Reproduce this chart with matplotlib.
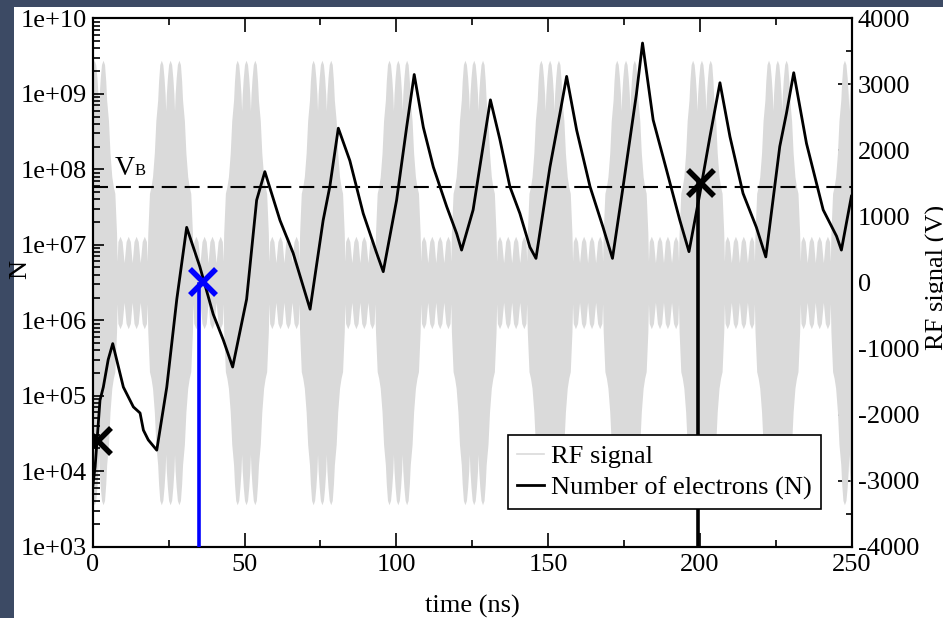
import numpy as np
import matplotlib.pyplot as plt
from matplotlib.lines import Line2D
from matplotlib.patches import Rectangle
from matplotlib.ticker import FixedLocator, NullFormatter

plt.rcParams['font.family'] = ['Liberation Serif', 'DejaVu Serif']

# number of electrons vs time
t_n = [0.0, 0.8, 2.4, 3.5, 5.1, 6.6, 10.1, 13.4, 15.6, 16.7, 18.3, 21.1,
       24.4, 27.7, 30.95, 35.3, 39.7, 43.0, 46.1, 50.7, 54.0, 56.7,
       61.7, 66.0, 71.6, 75.9, 78.1, 80.9, 84.7, 89.1, 93.5, 95.7,
       100.1, 103.4, 105.9, 108.9, 112.2, 116.6, 119.9, 121.5, 125.3, 127.5,
       131.0, 134.1, 137.4, 140.7, 144.0, 146.0, 150.6, 153.9, 156.1,
       159.4, 163.8, 168.1, 171.2, 174.7, 179.1, 181.1, 184.6, 189.0,
       193.4, 196.4, 200.0, 203.3, 206.6, 209.9, 214.2, 218.6, 221.7,
       226.3, 228.5, 230.9, 235.1, 240.6, 245.0, 246.6, 249.9]
n_e = [6.2e3, 1.15e4, 8.7e4, 1.3e5, 3.0e5, 4.9e5, 1.3e5, 7.1e4, 5.9e4, 3.5e4, 2.6e4, 1.9e4,
       1.3e5, 1.9e6, 1.7e7, 5.1e6, 1.2e6, 5.5e5, 2.4e5, 1.9e6, 3.9e7, 9.3e7,
       2.1e7, 7.8e6, 1.4e6, 2.1e7, 5.9e7, 3.5e8, 1.3e8, 2.6e7, 7.8e6, 4.4e6,
       3.9e7, 3.6e8, 1.8e9, 3.6e8, 1.07e8, 3.2e7, 1.4e7, 8.5e6, 2.9e7, 1.07e8,
       8.3e8, 2.5e8, 5.9e7, 2.6e7, 9.3e6, 6.6e6, 1.07e8, 5.5e8, 1.7e9,
       3.3e8, 5.9e7, 1.7e7, 6.6e6, 5.9e7, 1.0e9, 4.7e9, 4.5e8, 9.8e7,
       2.1e7, 8.1e6, 4.8e7, 2.7e8, 1.4e9, 2.7e8, 4.8e7, 1.7e7, 6.9e6,
       2.0e8, 5.5e8, 1.9e9, 2.2e8, 2.9e7, 1.3e7, 8.5e6, 4.4e7]

# RF signal: burst centres (ns) and upper envelope of one half period
burst_centres = [0.5, 25.5, 50.5, 75.5, 100.5, 125.5, 150.5, 175.5, 200.5, 225.5, 250.5]
env_dt = [0.0, 0.5, 0.9, 1.25, 1.45, 1.65, 2.0, 2.4, 2.9, 3.4, 3.8, 4.1, 4.7, 5.2, 5.8,
          6.3, 6.8, 7.35, 7.55, 7.8, 8.5, 9.2, 9.85, 10.5, 11.2, 11.9, 12.5]
env_v = [3365, 3300, 3100, 2850, 2600, 2850, 3100, 3300, 3365, 3300, 3050, 2760, 2450, 1960, 1600,
         1450, 1350, 750, 320, 620, 700, 620, 300, 620, 700, 620, 300]

v_b = 1450
blue_t, blue_top = 35.1, 3.0e6
blue_mark = (36.4, 3.2e6)
black_t, black_top = 199.4, 6.5e7
black_marks_t = [1.8, 200.5]
black_marks_n = [2.5e4, 6.5e7]

ylog_ticks = [1e3, 1e4, 1e5, 1e6, 1e7, 1e8, 1e9, 1e10]
ylog_labels = ['1e+03', '1e+04', '1e+05', '1e+06', '1e+07', '1e+08', '1e+09', '1e+10']
rf_ticks = [-4000, -3000, -2000, -1000, 0, 1000, 2000, 3000, 4000]
t_ticks = [0, 50, 100, 150, 200, 250]

fig = plt.figure(figsize=(9.43, 6.18), dpi=100, facecolor='#3c4a64')
fig.patches.append(Rectangle((14 / 943, 0), 1, 1 - 7 / 618, transform=fig.transFigure,
                             facecolor='white', edgecolor='none', zorder=0))

ax = fig.add_axes([0.0983, 0.1154, 0.8049, 0.855])
ax2 = ax.twinx()
ax.set_zorder(2)
ax2.set_zorder(1)
ax.patch.set_visible(False)
ax2.patch.set_facecolor('white')

# RF signal on the right axis
h_dt = np.array(env_dt)
h_v = np.array(env_v)
p_dt = np.concatenate([-h_dt[::-1], h_dt[1:]])
p_v = np.concatenate([h_v[::-1], h_v[1:]])
rf_t = np.concatenate([c + p_dt for c in burst_centres])
rf_v = np.tile(p_v, len(burst_centres))
ax2.fill_between(rf_t, -rf_v, rf_v, color='#dadada', lw=0, zorder=1.6)
ax2.axhline(v_b, color='black', lw=1.5, dashes=(7.2, 3.8), zorder=3)
ax2.text(7.3, 1628, 'V', fontsize=20)
ax2.text(13.8, 1628, 'B', fontsize=12)
ax2.set_ylim(-4000, 4000)
ax2.set_yticks(rf_ticks)
ax2.yaxis.set_minor_locator(FixedLocator(np.arange(-3500, 4000, 1000)))
ax2.tick_params(axis='y', which='major', direction='in', length=10, width=1.2,
                labelsize=19, pad=4.5)
ax2.tick_params(axis='y', which='minor', direction='in', length=4.5, width=1.2)
ax2.yaxis.set_major_formatter(plt.FuncFormatter(lambda v, p: '%d' % v))

# number of electrons on the left axis
ax.plot([blue_t, blue_t], [1e3, blue_top], color='#0000ff', lw=2.6, zorder=3)
ax.plot([black_t, black_t], [1e3, black_top], color='black', lw=2.6, zorder=3)
n_line, = ax.plot(t_n, n_e, color='black', lw=2.0, zorder=4)
ax.plot(*blue_mark, marker='x', ms=19, mew=4, color='#0000ff', zorder=5)
ax.plot(black_marks_t, black_marks_n, ls='none', marker='x', ms=19, mew=4,
        color='black', zorder=5)

ax.set_yscale('log')
ax.set_ylim(1e3, 1e10)
ax.set_xlim(0, 250)
ax.set_yticks(ylog_ticks)
ax.set_yticklabels(ylog_labels)
ax.yaxis.set_minor_locator(FixedLocator([m * 10.0 ** k for k in range(3, 10) for m in range(2, 10)]))
ax.yaxis.set_minor_formatter(NullFormatter())
ax.set_xticks(t_ticks)
ax.xaxis.set_minor_locator(FixedLocator([25, 75, 125, 175, 225]))
ax.tick_params(axis='y', which='major', direction='in', length=8, width=1.2,
               labelsize=19, pad=4, right=False)
ax.tick_params(axis='y', which='minor', direction='in', length=5, width=1.2, right=False)
ax.tick_params(axis='x', which='major', direction='in', length=10, width=1.2,
               labelsize=19, pad=5, top=True)
ax.tick_params(axis='x', which='minor', direction='in', length=5, width=1.2, top=True)

for a in (ax, ax2):
    for s in a.spines.values():
        s.set_linewidth(1.5)

ax.set_xlabel('time (ns)', fontsize=19, labelpad=14)
fig.text(20 / 943, 1 - 269 / 618, 'N', rotation=90, ha='center', va='center', fontsize=19)
fig.text(937 / 943, 1 - 277 / 618, 'RF signal (V)', rotation=90, ha='center', va='center',
         fontsize=19)

rf_handle = Line2D([], [], color='#dadada', lw=1.2)
leg = ax.legend([rf_handle, n_line], ['RF signal', 'Number of electrons (N)'],
                loc='lower left', bbox_to_anchor=(0.547, 0.071), borderaxespad=0,
                fontsize=19, fancybox=False, framealpha=1, edgecolor='black',
                handlelength=1.0, handletextpad=0.28, labelspacing=0.3, borderpad=0.36)
leg.get_frame().set_linewidth(1.2)

fig.savefig('out.png', dpi=100, facecolor=fig.get_facecolor())
